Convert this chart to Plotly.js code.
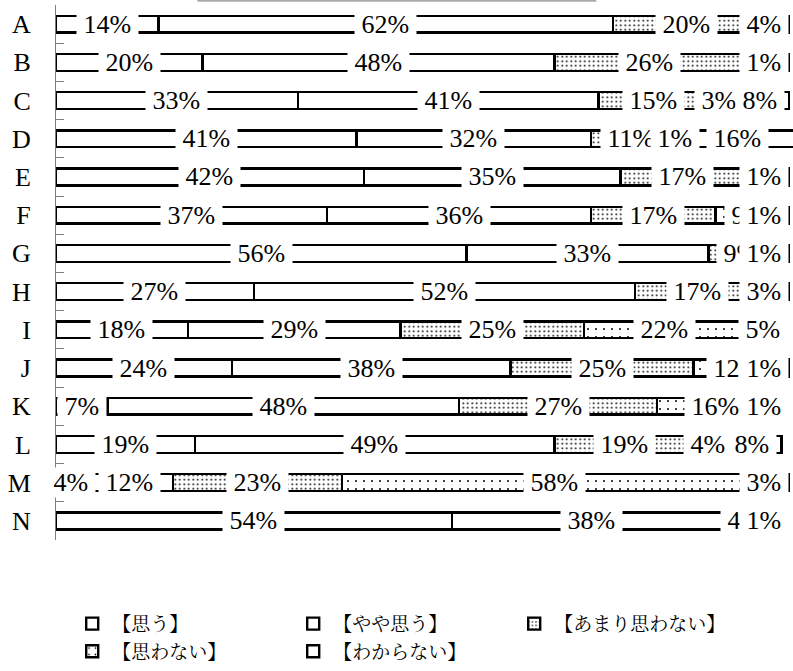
<!DOCTYPE html>
<html><head><meta charset="utf-8">
<script src="https://cdn.plot.ly/plotly-3.0.1.min.js"></script>
<style>html,body{margin:0;padding:0;background:#fff}</style>
</head><body>
<div id="chart" style="width:793px;height:671px"></div>
<script>
const categories = ['A','B','C','D','E','F','G','H','I','J','K','L','M','N'];
const seriesNames = ['【思う】','【やや思う】','【あまり思わない】','【思わない】','【わからない】'];
const omou          = [14,20,33,41,42,37,56,27,18,24, 7,19, 4,54];
const yayaOmou      = [62,48,41,32,35,36,33,52,29,38,48,49,12,38];
const amariOmowanai = [20,26,15,11,17,17, 9,17,25,25,27,19,23, 4];
const omowanai      = [ 4, 5, 3, 1, 5, 9, 1, 1,22,12,16, 4,58, 1];
const wakaranai     = [ 0, 1, 8,16, 1, 1, 1, 3, 5, 1, 1, 8, 3, 1];

const seriesValues = [omou, yayaOmou, amariOmowanai, omowanai, wakaranai];
const patterns = [
  null, null,
  {shape:'.', bgcolor:'white', fgcolor:'black', size:4.5, solidity:0.14, fillmode:'replace'},
  {shape:'.', bgcolor:'white', fgcolor:'black', size:8, solidity:0.05, fillmode:'replace'},
  null
];

const SERIF = 'Liberation Serif';
const MINCHO = 'Noto Serif CJK JP';

const traces = seriesValues.map((vals, j) => {
  const marker = {color:'white', line:{color:'black', width:2.4}};
  if (patterns[j]) marker.pattern = patterns[j];
  return {
    type:'bar', orientation:'h', name:seriesNames[j],
    x: vals, y: categories, marker: marker,
    hoverinfo:'none', textposition:'none'
  };
});

// data labels centered on segments, white box behind (kept inside chart on the right)
const X_MAX = 100.55, PLOT_W = 737;
const pxPerUnit = PLOT_W / X_MAX;
const FS = 26;
const annotations = [];
categories.forEach((c, i) => {
  let cum = 0;
  const boxes = [];
  seriesValues.forEach((vals, j) => {
    const v = vals[i];
    if (v > 0) {
      const center = cum + v / 2;
      const w = (String(v).length * 0.5 + 0.833 + 0.5) * FS;
      const over = (center * pxPerUnit + w / 2) > (100 * pxPerUnit + 1);
      const cpx = over ? 100 * pxPerUnit - w / 2 : center * pxPerUnit;
      boxes.push({v, center, over, l:cpx - w / 2, r:cpx + w / 2});
    }
    cum += v;
  });
  boxes.forEach((b, k) => {
    // a label fully hidden behind a later label is not visible in the original
    const hidden = boxes.slice(k + 1).some(o => o.l <= b.l + 4 && o.r >= b.r - 4);
    if (hidden) return;
    annotations.push({
      x: b.over ? 100 : b.center, y: c, xref:'x', yref:'y',
      xanchor: b.over ? 'right' : 'center', yanchor:'middle',
      text: '\u00a0' + b.v + '%\u00a0', showarrow:false, bgcolor:'white', borderpad:0,
      font:{family:SERIF, size:FS, color:'#000'}
    });
  });
});

const layout = {
  width:793, height:671,
  font:{family:SERIF},
  margin:{l:56, r:0, t:5, b:119, pad:0},
  barmode:'stack', bargap:0.56,
  paper_bgcolor:'white', plot_bgcolor:'white',
  xaxis:{range:[0, X_MAX], visible:false, fixedrange:true},
  yaxis:{type:'category', autorange:'reversed', showline:true, linecolor:'#7f7f7f', linewidth:1,
         ticks:'inside', ticklen:8, tickcolor:'#7f7f7f', tickwidth:1, tickson:'boundaries',
         showgrid:false, zeroline:false, ticklabelstandoff:19, fixedrange:true,
         tickfont:{family:SERIF, size:26, color:'#000'}},
  showlegend:true,
  legend:{orientation:'h', x:0.022, xanchor:'left', y:-0.121, yanchor:'top', traceorder:'normal',
          entrywidth:176, entrywidthmode:'pixels', itemwidth:30, tracegroupgap:0,
          bgcolor:'rgba(0,0,0,0)',
          font:{family:MINCHO, size:19, color:'#000'}},
  annotations: annotations,
  shapes:[{type:'line', xref:'paper', yref:'paper', x0:0.192, x1:0.733, y0:1.008, y1:1.008,
           line:{color:'#aaaaaa', width:2}}]
};
const config = {displayModeBar:false, staticPlot:true};

function draw() { return Plotly.newPlot('chart', traces, layout, config); }
draw();
if (document.fonts && document.fonts.load) {
  Promise.all([
    document.fonts.load('26px "' + SERIF + '"', '14%ABC'),
    document.fonts.load('19px "' + MINCHO + '"', '【思う】')
  ]).catch(() => {}).then(() => { Plotly.purge('chart'); draw(); });
}
</script>
</body></html>
